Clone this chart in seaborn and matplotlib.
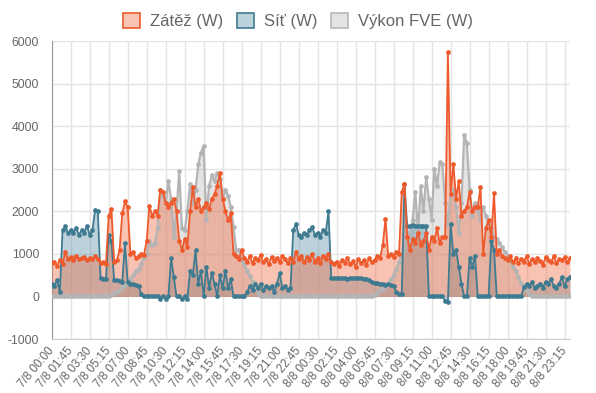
import matplotlib
matplotlib.use("Agg")
import matplotlib.pyplot as plt
from matplotlib.patches import Patch
import numpy as np
import pandas as pd
import seaborn as sns

# ---- data (15-minute samples, 7/8 00:00 .. 8/8 23:45) ----
load_w = [
    780, 820, 720, 850, 760, 1050, 880, 920,
    850, 950, 880, 900, 930, 860, 900, 870,
    950, 880, 780, 800, 760, 1900, 2060, 820,
    850, 1080, 1950, 2230, 2100, 1000, 1050, 900,
    950, 1000, 980, 1300, 2130, 1900, 2000, 1900,
    2490, 2450, 2200, 2100, 2200, 2300, 2000, 1300,
    1100, 1350, 1150, 2000, 2560, 2100, 2300, 2000,
    2100, 2200, 2050, 2300, 2400, 2600, 2900, 2300,
    2000, 1800, 1950, 1000, 950, 880, 1080, 900,
    820, 950, 780, 900, 850, 980, 800, 870,
    760, 930, 840, 900, 800, 950, 880, 780,
    900, 820, 1050, 870, 950, 800, 920, 850,
    1000, 820, 900, 780, 950, 880, 1000, 800,
    760, 820, 720, 850, 780, 900, 760, 830,
    700, 880, 780, 850, 740, 900, 800, 860,
    950, 900, 1200, 1830, 950, 1000, 920, 1050,
    1000, 2450, 2650, 1400, 1100, 1350, 1250, 1500,
    1200, 1300, 1500, 1100, 1400, 1300, 1600, 1250,
    1400, 1400, 5740, 2400, 3120, 2300, 2700, 1900,
    2000, 2100, 2450, 2000, 2100, 2100, 2560, 1000,
    1600, 1800, 1400, 2420, 1000, 1100, 950, 900,
    850, 950, 800, 900, 780, 880, 820, 950,
    760, 880, 800, 900, 830, 750, 920, 850,
    800, 950, 780, 880, 850, 920, 800, 900,
]
grid_w = [
    300, 250, 380, 100, 1550, 1650, 1500, 1550,
    1500, 1600, 1450, 1550, 1500, 1650, 1450, 1550,
    2040, 2000, 430, 420, 420, 1450, 1300, 380,
    380, 370, 350, 1250, 330, 300, 290, 280,
    250, 50, 0, 0, 0, 0, 0, 0,
    -50, 0, -60, 0, 900, 450, 0, 0,
    -60, 0, -50, 600, 500, 1080, 300, 600,
    0, 700, 200, 550, 300, 0, 500, 200,
    600, 200, 400, 0, 0, 0, 0, 0,
    100, 250, 150, 300, 200, 300, 150, 250,
    200, 250, 100, 300, 540, 200, 250, 150,
    200, 1550, 1700, 1450, 1400, 1500, 1450, 1550,
    1620, 1450, 1500, 1400, 1550, 1500, 2000, 430,
    430, 430, 425, 430, 430, 420, 430, 425,
    430, 430, 425, 420, 400, 380, 350, 320,
    320, 300, 300, 280, 300, 260, 250, 100,
    50, 50, 2650, 1650, 1650, 1670, 1650, 1660,
    1660, 1650, 1650, 0, 0, 0, 0, 0,
    0, -100, -130, 1700, 1000, 1100, 700, 300,
    0, 0, 900, 700, 950, 0, 0, 0,
    0, 0, 1300, 1100, 0, 0, 0, 0,
    0, 0, 0, 0, 0, 0, 220, 300,
    250, 350, 200, 250, 300, 200, 350, 300,
    400, 250, 200, 300, 450, 250, 400, 450,
]
pv_w = [
    0, 0, 0, 0, 0, 0, 0, 0,
    0, 0, 0, 0, 0, 0, 0, 0,
    0, 0, 0, 0, 0, 10, 40, 70,
    100, 150, 220, 280, 350, 420, 500, 600,
    650, 770, 900, 1000, 1300, 1200, 1250, 1600,
    2500, 2350, 2200, 2700, 2300, 1400, 2000, 2940,
    1600, 1550, 2000, 2650, 2200, 2500, 3100, 3380,
    3540, 1800, 2600, 2850, 2700, 2900, 2770, 2300,
    2500, 2370, 2100, 1620, 1080, 1100, 850, 750,
    600, 480, 350, 200, 70, 20, 0, 0,
    0, 0, 0, 0, 0, 0, 0, 0,
    0, 0, 0, 0, 0, 0, 0, 0,
    0, 0, 0, 0, 0, 0, 0, 0,
    0, 0, 0, 0, 0, 0, 0, 0,
    0, 0, 0, 0, 0, 0, 0, 30,
    80, 140, 180, 220, 300, 400, 500, 650,
    800, 1000, 1100, 1500, 1400, 1800, 2450, 1500,
    2600, 2000, 2800, 2300, 1800, 3000, 2600, 3150,
    3100, 2200, 1700, 2400, 2500, 2100, 1500, 2200,
    3800, 3600, 2500, 1900, 2200, 2000, 1800, 2100,
    1900, 1700, 1600, 1400, 1350, 1250, 1150, 1050,
    950, 850, 700, 600, 450, 320, 200, 120,
    60, 20, 0, 0, 0, 0, 0, 0,
    0, 0, 0, 0, 0, 0, 0, 0,
]
series_names = ["Zátěž (W)", "Síť (W)", "Výkon FVE (W)"]
y_ticks = [-1000, 0, 1000, 2000, 3000, 4000, 5000, 6000]

times = pd.date_range("2021-08-07 00:00", periods=len(load_w), freq="15min")
time_labels = [f"{t.day}/{t.month} {t:%H:%M}" for t in times]
idx = np.arange(len(load_w))

sns.set_style("white")
plt.rcParams["font.family"] = ["Liberation Sans", "DejaVu Sans"]

fig = plt.figure(figsize=(5.96, 3.93), dpi=100)
ax = fig.add_axes([51.7 / 596, 1 - 339 / 393, (570 - 51.7) / 596, (339 - 41) / 393])

styles = [
    # values, line colour, fill colour, fill alpha, line width, zorder
    (load_w, "#ee5a2c", "#ef6a40", 0.40, 1.3, 3),
    (grid_w, "#3f7b90", "#5a8ea3", 0.40, 1.3, 2),
    (pv_w, "#b4b4b4", "#b8b8b8", 0.38, 1.6, 1),
]
for (vals, lc, fc, alpha, lw, z), name in zip(styles, series_names):
    ax.fill_between(idx, vals, 0, color=fc, alpha=alpha, linewidth=0, zorder=z)
    sns.lineplot(x=idx, y=vals, color=lc, linewidth=lw, marker="o",
                 markersize=3.4, markeredgewidth=0, ax=ax, zorder=z + 4)

ax.set_xlim(0, len(load_w) - 1)
ax.set_ylim(-1000, 6000)
ax.set_yticks(y_ticks)
ax.set_yticklabels([str(v) for v in y_ticks])
tick_pos = idx[::7]
ax.set_xticks(tick_pos)
ax.set_xticklabels([time_labels[i] for i in tick_pos], rotation=50,
                   ha="right", va="center", rotation_mode="anchor")
ax.grid(True, color="#e4e4e4", linewidth=1)
ax.set_axisbelow(True)
ax.tick_params(axis="y", length=7, color="#e4e4e4", width=1,
               labelsize=8.8, labelcolor="#666666", pad=2)
ax.tick_params(axis="x", length=6, color="#e4e4e4", width=1,
               labelsize=8.4, labelcolor="#666666", pad=1)
for s in ["top", "right"]:
    ax.spines[s].set_visible(False)
ax.spines["left"].set_color("#999999")
ax.spines["bottom"].set_color("#cccccc")
ax.set_xlabel("")
ax.set_ylabel("")

handles = [
    Patch(facecolor="#f8c4b3", edgecolor="#ee5a2c", linewidth=1.2),
    Patch(facecolor="#bcd2da", edgecolor="#3f7b90", linewidth=1.2),
    Patch(facecolor="#e3e3e3", edgecolor="#b8b8b8", linewidth=1.2),
]
fig.legend(handles, series_names, loc="center", bbox_to_anchor=(0.5, 1 - 21 / 393),
           ncol=3, frameon=False, fontsize=12, labelcolor="#666666",
           handlelength=1.0, handleheight=1.05, handletextpad=0.6, columnspacing=0.85)

fig.savefig("out.png", dpi=100)
